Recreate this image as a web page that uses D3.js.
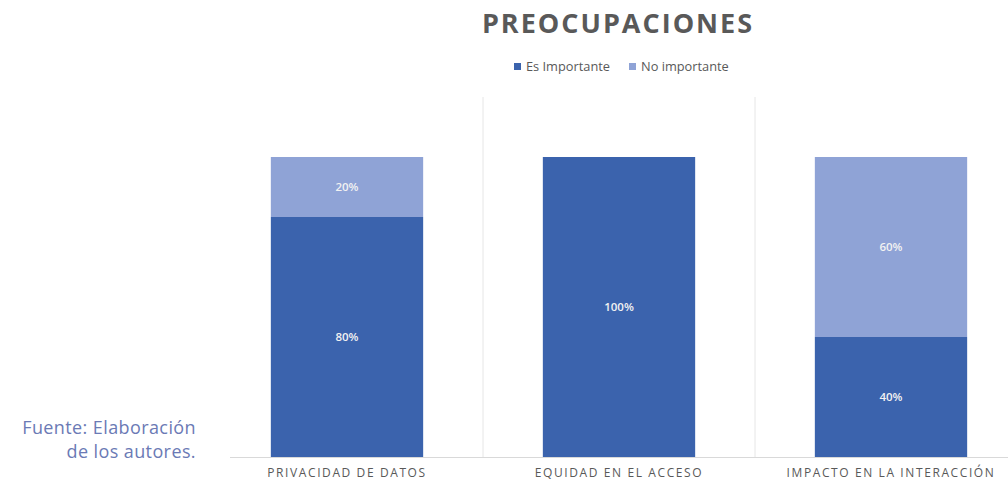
<!DOCTYPE html>
<html><head><meta charset="utf-8">
<script src="https://cdn.jsdelivr.net/npm/d3@7"></script>
<style>body{margin:0;background:#fff}svg{display:block}</style>
</head><body>
<svg id="c" width="1008" height="485"></svg>
<script>
const categories = ["PRIVACIDAD DE DATOS", "EQUIDAD EN EL ACCESO", "IMPACTO EN LA INTERACCIÓN"];
const seriesNames = ["Es Importante", "No importante"];
const esImportante = [80, 100, 40];
const noImportante = [20, 0, 60];
const colors = ["#3b63ad", "#8fa3d6"];

const svg = d3.select("#c");
const x = d3.scaleBand().domain(categories).range([211, 1027]).padding(0);
const y = d3.scaleLinear().domain([0, 120]).range([457, 97]);
const barW = x.bandwidth() * 0.56;

// separators
const bounds = categories.slice(1).map(c => x(c));
svg.selectAll(".sep").data(bounds).join("line")
  .attr("x1", d => d).attr("x2", d => d).attr("y1", y(120)).attr("y2", y(0))
  .attr("stroke", "#e6e6e6").attr("stroke-width", 1);

const data = categories.map((c, i) => ({c, vals: [esImportante[i], noImportante[i]]}));
const stack = d3.stack().keys([0, 1]).value((d, k) => d.vals[k])(data);

stack.forEach((layer, k) => {
  svg.selectAll(".b" + k).data(layer).join("rect")
    .attr("x", d => x(d.data.c) + (x.bandwidth() - barW) / 2)
    .attr("width", barW)
    .attr("y", d => y(d[1]))
    .attr("height", d => y(d[0]) - y(d[1]))
    .attr("fill", colors[k]);
  svg.selectAll(".l" + k).data(layer.filter(d => d[1] - d[0] > 0)).join("text")
    .attr("x", d => x(d.data.c) + x.bandwidth() / 2)
    .attr("y", d => (y(d[0]) + y(d[1])) / 2 + 4)
    .attr("text-anchor", "middle")
    .attr("font-family", "Open Sans, sans-serif").attr("font-size", 11.5).attr("font-weight", 600)
    .attr("fill", "#f2f2f2")
    .text(d => (d[1] - d[0]) + "%");
});

// x axis
const ax = svg.append("g").attr("transform", `translate(0,${y(0)})`)
  .call(d3.axisBottom(x).tickSize(0).tickPadding(10));
ax.select(".domain").attr("d", "M230,0.5H1008").attr("stroke", "#d9d9d9");
ax.selectAll("text").attr("font-family", "Open Sans, sans-serif").attr("font-size", 12)
  .attr("fill", "#595959").attr("letter-spacing", "1.6px").attr("dy", "0.85em");

// title
svg.append("text").attr("x", 618).attr("y", 33).attr("text-anchor", "middle")
  .attr("font-family", "Open Sans, sans-serif").attr("font-weight", 700).attr("font-size", 27)
  .attr("letter-spacing", "2px").attr("fill", "#595959").text("PREOCUPACIONES");

// legend
const leg = [{n: seriesNames[0], x: 514}, {n: seriesNames[1], x: 629}];
leg.forEach((l, i) => {
  svg.append("rect").attr("x", l.x).attr("y", 63).attr("width", 7).attr("height", 7).attr("fill", colors[i]);
  svg.append("text").attr("x", l.x + 12).attr("y", 70.5)
    .attr("font-family", "Open Sans, sans-serif").attr("font-size", 12.8).attr("fill", "#595959").text(l.n);
});

// source
const src = svg.append("text").attr("text-anchor", "end")
  .attr("font-family", "Open Sans, sans-serif").attr("font-size", 18).attr("fill", "#6b7ab5")
  .attr("letter-spacing", "0.4px");
src.append("tspan").attr("x", 196).attr("y", 434).text("Fuente: Elaboración");
src.append("tspan").attr("x", 196).attr("y", 458).text("de los autores.");
</script>
</body></html>
